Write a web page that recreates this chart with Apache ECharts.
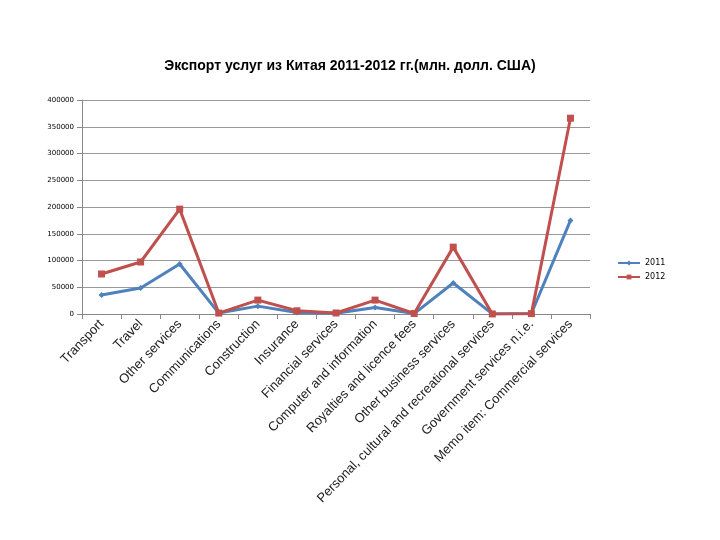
<!DOCTYPE html>
<html><head><meta charset="utf-8">
<script src="https://cdn.jsdelivr.net/npm/echarts@6/dist/echarts.min.js"></script>
<style>html,body{margin:0;background:#fff}#c{width:720px;height:540px}</style>
</head><body><div id="c"></div>
<script>
const categories=['Transport','Travel','Other services','Communications','Construction','Insurance','Financial services','Computer and information','Royalties and licence fees','Other business services','Personal, cultural and recreational services','Government services n.i.e.','Memo item: Commercial services'];
const s2011=[35500,48600,93500,1700,14700,3000,1500,12200,740,58000,120,1000,175000];
const s2012=[74800,97200,196000,1700,26000,6000,1900,26000,1000,125000,100,700,366000];
const yTicks=[0,50000,100000,150000,200000,250000,300000,350000,400000];
const chart=echarts.init(document.getElementById('c'));
chart.setOption({
 animation:false,
 title:{text:'Экспорт услуг из Китая 2011-2012 гг.(млн. долл. США)',left:345,top:54,textAlign:'center',textStyle:{fontFamily:'Liberation Sans',fontSize:14,fontWeight:'bold',color:'#000'}},
 legend:{orient:'vertical',left:612,top:254,itemGap:6,itemWidth:22,itemHeight:6,textStyle:{fontSize:8,fontFamily:'DejaVu Sans',color:'#000'},data:['2011','2012']},
 grid:{left:82,right:130,top:100,bottom:226,containLabel:false},
 xAxis:{type:'category',data:categories,boundaryGap:true,axisLine:{lineStyle:{color:'#888'}},axisTick:{show:true,lineStyle:{color:'#888'}},
  axisLabel:{interval:0,rotate:46,fontSize:13,color:'#222',fontFamily:'Liberation Sans',margin:8}},
 yAxis:{type:'value',min:0,max:400000,interval:50000,axisLine:{show:true,lineStyle:{color:'#888'}},axisTick:{show:true},
  splitLine:{lineStyle:{color:'#999'}},axisLabel:{fontSize:7,color:'#000',fontFamily:'DejaVu Sans',formatter:v=>yTicks.includes(v)?String(v):''}},
 series:[
  {name:'2011',type:'line',data:s2011,symbol:'diamond',symbolSize:6,lineStyle:{width:3,color:'#4F81BD'},itemStyle:{color:'#4F81BD'}},
  {name:'2012',type:'line',data:s2012,symbol:'rect',symbolSize:7,lineStyle:{width:3,color:'#C0504D'},itemStyle:{color:'#C0504D'}}
 ]
});
</script></body></html>
